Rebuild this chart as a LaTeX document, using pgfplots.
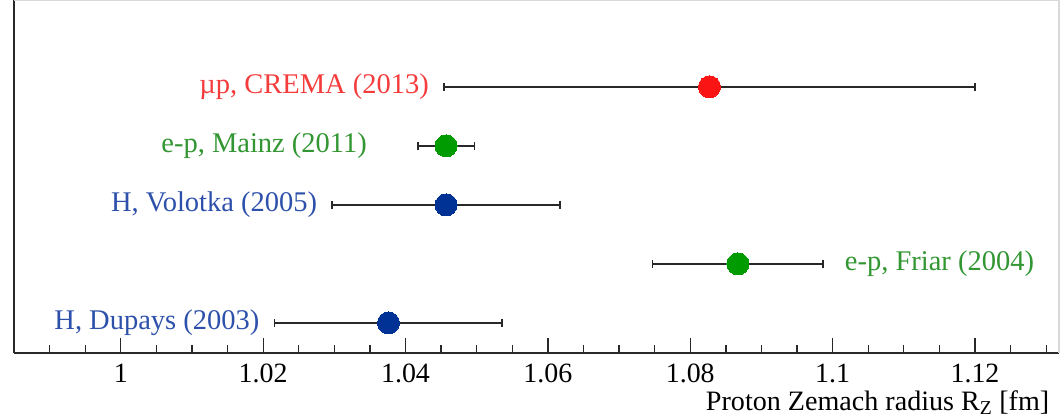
\documentclass[border=0pt]{standalone}
\usepackage{fontspec}
\setmainfont{Liberation Serif}
\usepackage{pgfplots}
\pgfplotsset{compat=1.18}
\definecolor{mred}{RGB}{250,20,20}
\definecolor{lred}{RGB}{245,60,60}
\definecolor{mgreen}{RGB}{0,155,0}
\definecolor{lgreen}{RGB}{50,150,50}
\definecolor{mblue}{RGB}{0,50,150}
\definecolor{lblue}{RGB}{45,80,170}
\definecolor{axgray}{RGB}{40,40,40}
\begin{document}
\fontsize{28.6}{34}\selectfont
\begin{tikzpicture}
\begin{axis}[
  scale only axis, width=1045bp, height=353bp,
  xmin=0.985, xmax=1.1318, ymin=0.49, ymax=6.47,
  axis x line=bottom, axis y line=left,
  axis line style={-, line width=1.5bp, color=axgray},
  ytick=\empty,
  xtick={1,1.02,1.04,1.06,1.08,1.1,1.12},
  minor xtick={0.99,0.995,1.005,1.01,1.015,1.025,1.03,1.035,1.045,1.05,1.055,1.065,1.07,1.075,1.085,1.09,1.095,1.105,1.11,1.115,1.125,1.13},
  xtick align=inside,
  major tick length=15bp, minor tick length=8bp,
  tick style={line width=1.3bp, color=axgray},
  /pgf/number format/assume math mode=true,
  xticklabel style={font=\fontsize{28}{34}\selectfont, yshift=-1bp},
  xlabel={Proton Zemach radius R\textsubscript{Z} [fm]},
  xlabel style={at={(rel axis cs:1,0)}, anchor=base east, yshift=-57bp, xshift=0bp, font=\fontsize{28.2}{34}\selectfont},
  clip=false,
  error bars/error bar style={line width=1.8bp, color=axgray},
  error bars/error mark options={rotate=90, mark size=4bp, line width=1.8bp, color=axgray},
]
\addplot[only marks, mark=*, mark size=11bp, mark options={draw=mred, fill=mred, line width=0pt},
  error bars/.cd, x dir=both, x explicit]
  coordinates {(1.0827,5) +- (0.0373,0)};
\addplot[only marks, mark=*, mark size=11bp, mark options={draw=mgreen, fill=mgreen, line width=0pt},
  error bars/.cd, x dir=both, x explicit]
  coordinates {(1.0457,4) +- (0.004,0) (1.0867,2) +- (0.012,0)};
\addplot[only marks, mark=*, mark size=11bp, mark options={draw=mblue, fill=mblue, line width=0pt},
  error bars/.cd, x dir=both, x explicit]
  coordinates {(1.0457,3) +- (0.016,0) (1.0376,1) +- (0.016,0)};

\node[anchor=east, inner sep=0pt, text=lred] at (axis cs:1.0433,5) {µp, CREMA (2013)};
\node[anchor=east, inner sep=0pt, text=lgreen] at (axis cs:1.0346,4) {e-p, Mainz (2011)};
\node[anchor=east, inner sep=0pt, text=lblue] at (axis cs:1.0276,3) {H, Volotka (2005)};
\node[anchor=west, inner sep=0pt, text=lgreen] at (axis cs:1.1017,2) {e-p, Friar (2004)};
\node[anchor=east, inner sep=0pt, text=lblue] at (axis cs:1.0195,1) {H, Dupays (2003)};

\draw[black!15, line width=1.5bp] (rel axis cs:0,1) -- (rel axis cs:1,1) -- (rel axis cs:1,0);
\coordinate (sw) at (rel axis cs:0,0);
\coordinate (ne) at (rel axis cs:1,1);
\end{axis}
\pgfresetboundingbox
\path ([xshift=-14bp,yshift=-67bp]sw) rectangle ([xshift=2bp]ne);
\end{tikzpicture}
\end{document}
